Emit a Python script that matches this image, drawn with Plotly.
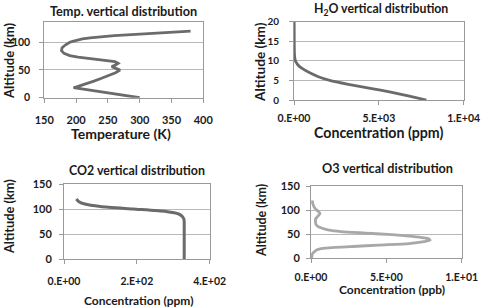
import plotly.graph_objects as go

# ---------------- data ----------------
temp_alt = [0, 5, 10, 15, 18, 20, 25, 30, 35, 40, 45, 50, 53, 56, 59, 62, 65, 68, 70, 73, 76, 80, 85, 90, 95, 100, 102, 104, 106, 108, 110, 112, 115, 120]
temp_val = [300, 272, 245, 212, 196, 202, 216, 228, 240, 252, 262, 269, 262, 256, 262, 266, 261, 238, 222, 203, 190, 181, 177, 178, 183, 190, 196, 202, 210, 222, 240, 260, 307, 380]

h2o_alt = [0, 1, 2, 3, 4, 5, 6, 7, 8, 9, 10, 11, 12, 15, 20]
h2o_val = [7800, 6800, 5700, 4500, 3200, 2100, 1400, 900, 500, 220, 80, 40, 25, 15, 10]

co2_alt = [0, 10, 20, 30, 40, 50, 60, 70, 75, 80, 85, 90, 95, 100, 105, 110, 115, 120]
co2_val = [330, 330, 330, 330, 330, 330, 330, 330, 330, 329, 325, 315, 280, 190, 100, 57, 40, 34]

o3_alt = [0, 2, 6, 10, 15, 17, 19, 21, 24, 27, 30, 34, 37, 40, 42, 45, 48, 50, 52, 55, 58, 62, 66, 70, 75, 81, 87, 93, 98, 103, 108, 113, 117, 120]
o3_val = [0.05, 0.05, 0.07, 0.12, 0.3, 0.4, 0.6, 1.2, 2.8, 4.5, 6.5, 7.5, 7.9, 7.8, 7.5, 6.7, 5.6, 4.6, 3.6, 2.0, 1.2, 0.75, 0.45, 0.33, 0.3, 0.3, 0.45, 0.6, 0.45, 0.28, 0.18, 0.12, 0.1, 0.1]

temp_ticks = [150, 200, 250, 300, 350, 400]
h2o_xticks = [0, 5000, 10000]
h2o_xlabels = ["0.E+00", "5.E+03", "1.E+04"]
co2_xticks = [0, 200, 400]
co2_xlabels = ["0.E+00", "2.E+02", "4.E+02"]
o3_xticks = [0, 5, 10]
o3_xlabels = ["0.E+00", "5.E+00", "1.E+01"]

titles = ["Temp. vertical distribution", "H<sub>2</sub>O vertical distribution",
          "CO2 vertical distribution", "O3 vertical distribution"]
xtitles = ["Temperature (K)", "Concentration (ppm)", "Concentration (ppm)", "Concentration (ppb)"]
ytitle = "Altitude (km)"

# ---------------- styling ----------------
W, H = 485, 308
FONT = "Lato"
DARK = "#6b6b6b"
LIGHT = "#a8a8a8"
AXC = "#9a9a9a"
GRID = "#b8b8b8"
TXT = "#1a1a1a"

def px(x):
    return x / W

def py(y):
    return 1 - y / H

fig = go.Figure()
fig.add_trace(go.Scatter(x=temp_val, y=temp_alt, mode="lines", line=dict(color=DARK, width=2.8),
                         xaxis="x", yaxis="y", showlegend=False))
fig.add_trace(go.Scatter(x=h2o_val, y=h2o_alt, mode="lines", line=dict(color=DARK, width=2.8, shape="spline", smoothing=0.6),
                         xaxis="x2", yaxis="y2", showlegend=False))
fig.add_trace(go.Scatter(x=co2_val, y=co2_alt, mode="lines", line=dict(color=DARK, width=3, shape="spline", smoothing=0.6),
                         xaxis="x3", yaxis="y3", showlegend=False))
fig.add_trace(go.Scatter(x=o3_val, y=o3_alt, mode="lines", line=dict(color=LIGHT, width=2.8, shape="spline", smoothing=0.6),
                         xaxis="x4", yaxis="y4", showlegend=False))

def tf(size):
    return dict(family=FONT, size=size, color=TXT, weight="bold")

def xax(dom, rng, tv, tt, anchor, standoff, size):
    return dict(domain=dom, range=rng, tickvals=tv, ticktext=tt, anchor=anchor,
                showgrid=False, zeroline=False, showline=True, linecolor=AXC, linewidth=1,
                mirror=True, ticks="outside", ticklen=4, tickcolor=AXC, automargin=False,
                tickfont=tf(size), ticklabelstandoff=standoff, fixedrange=True)

def yax(dom, rng, tv, anchor, standoff, size):
    return dict(domain=dom, range=rng, tickvals=tv, anchor=anchor,
                showgrid=True, gridcolor=GRID, gridwidth=1, zeroline=False,
                showline=True, linecolor=AXC, linewidth=1, mirror=True,
                ticks="outside", ticklen=4, tickcolor=AXC, automargin=False,
                tickfont=tf(size), ticklabelstandoff=standoff, fixedrange=True)

# pixel frames of the 4 plot areas: (left, right, top, bottom)
f1 = (44.3, 203.3, 22.3, 97.7)
f2 = (294.0, 463.7, 21.7, 100.0)
f3 = (64.0, 209.7, 184.0, 259.0)
f4 = (311.0, 461.7, 186.0, 258.0)

def dx(f):
    return [px(f[0]), px(f[1])]

def dy(f):
    return [py(f[3]), py(f[2])]

fig.update_layout(
    width=W, height=H, autosize=False,
    margin=dict(l=0, r=0, t=0, b=0, autoexpand=False),
    paper_bgcolor="white", plot_bgcolor="white",
    hovermode=False,
    xaxis=xax(dx(f1), [150, 400], temp_ticks, [str(t) for t in temp_ticks], "y", 8, 11),
    yaxis=yax(dy(f1), [0, 136], [0, 50, 100], "x", 7, 10.5),
    xaxis2=xax(dx(f2), [0, 10000], h2o_xticks, h2o_xlabels, "y2", 4, 10.5),
    yaxis2=yax(dy(f2), [0, 20], [0, 5, 10, 15, 20], "x2", 8, 10),
    xaxis3=xax(dx(f3), [0, 400], co2_xticks, co2_xlabels, "y3", 8, 10.5),
    yaxis3=yax(dy(f3), [0, 150], [0, 50, 100, 150], "x3", 5, 11),
    xaxis4=xax(dx(f4), [0, 10], o3_xticks, o3_xlabels, "y4", 5, 10.5),
    yaxis4=yax(dy(f4), [0, 150], [0, 50, 100, 150], "x4", 4, 11),
)

ann = []
# chart titles: (x_px, y_px, size)
for t, (x, y, s) in zip(titles, [(124, 11, 12.7), (381, 10, 12.3), (137, 170, 12.4), (387, 168, 12.7)]):
    ann.append(dict(text="<b>" + t + "</b>", x=px(x), y=py(y), xref="paper", yref="paper",
                    showarrow=False, xanchor="center", yanchor="middle",
                    font=dict(family=FONT, size=s, color=TXT)))
# x-axis titles
for t, (x, y, s) in zip(xtitles, [(121, 133, 14), (378, 132, 14.2), (138, 300, 12), (392, 289, 12)]):
    ann.append(dict(text="<b>" + t + "</b>", x=px(x), y=py(y), xref="paper", yref="paper",
                    showarrow=False, xanchor="center", yanchor="middle",
                    font=dict(family=FONT, size=s, color=TXT)))
# y-axis titles
for (x, y, s) in [(9, 61, 13), (260, 62, 13.6), (9, 217, 12.8), (261, 221, 12.5)]:
    ann.append(dict(text="<b>" + ytitle + "</b>", x=px(x), y=py(y), xref="paper", yref="paper",
                    showarrow=False, xanchor="center", yanchor="middle", textangle=-90,
                    font=dict(family=FONT, size=s, color=TXT)))
fig.update_layout(annotations=ann)

fig.write_html("out.html", config={"displayModeBar": False},
               post_script="document.body.style.margin='0';document.body.style.padding='0';")
